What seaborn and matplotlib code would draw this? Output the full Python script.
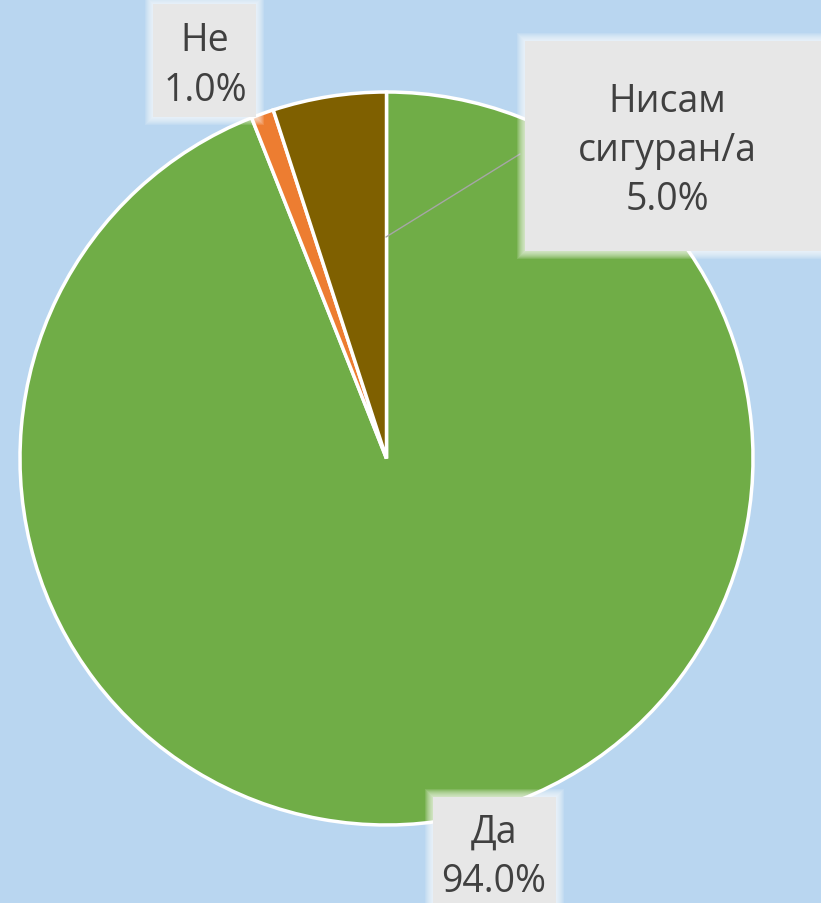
import matplotlib
matplotlib.use("Agg")
import matplotlib.pyplot as plt
import seaborn as sns
from matplotlib.patches import Rectangle

# data
categories = ['Да', 'Не', 'Нисам\nсигуран/а']
shares = [94.0, 1.0, 5.0]
colors = ['#70AD47', '#ED7D31', '#7F6000']

sns.set_theme(style='white')
plt.rcParams['font.family'] = ['Open Sans', 'DejaVu Sans']

W, H = 821, 904
fig = plt.figure(figsize=(W / 100, H / 100), dpi=100)
bg = '#B9D6F0'
fig.patch.set_facecolor(bg)
ax = fig.add_axes([0, 0, 1, 1])
ax.set_facecolor(bg)

cx, cy, r = 386.5, H - 459.5, 366.5
ax.pie(shares, colors=colors, startangle=90, counterclock=False,
       center=(cx, cy), radius=r, frame=True,
       wedgeprops=dict(edgecolor='white', linewidth=2.5))
ax.set_xlim(0, W)
ax.set_ylim(0, H)
ax.set_aspect('equal')
ax.axis('off')

# leader line for the 5% label
ax.plot([386, 520], [H - 238, H - 155], color='#A6A6A6', lw=1, zorder=5)

# label boxes (x0, y0 top, x1, y1 bottom in pixel coords)
boxes = [
    (433, 798, 556, 910),
    (153, 5, 256, 118),
    (525, 42, 830, 252),
]
for x0, y0, x1, y1 in boxes:
    for g in range(8, 0, -1):
        ax.add_patch(Rectangle((x0 - g, H - y1 - g), (x1 - x0) + 2 * g, (y1 - y0) + 2 * g,
                               facecolor='white', edgecolor='none', alpha=0.13, zorder=6))
    ax.add_patch(Rectangle((x0, H - y1), x1 - x0, y1 - y0,
                           facecolor='#E7E7E7', edgecolor='none', zorder=7))

label_pos = [(494, 857), (205, 66), (667, 151)]
for cat, val, (x, y) in zip(categories, shares, label_pos):
    ax.text(x, H - y, f'{cat}\n{val:.1f}%', ha='center', va='center',
            fontsize=27, color='#404040', linespacing=1.38, zorder=8)

fig.savefig('out.png', dpi=100, facecolor=bg)
